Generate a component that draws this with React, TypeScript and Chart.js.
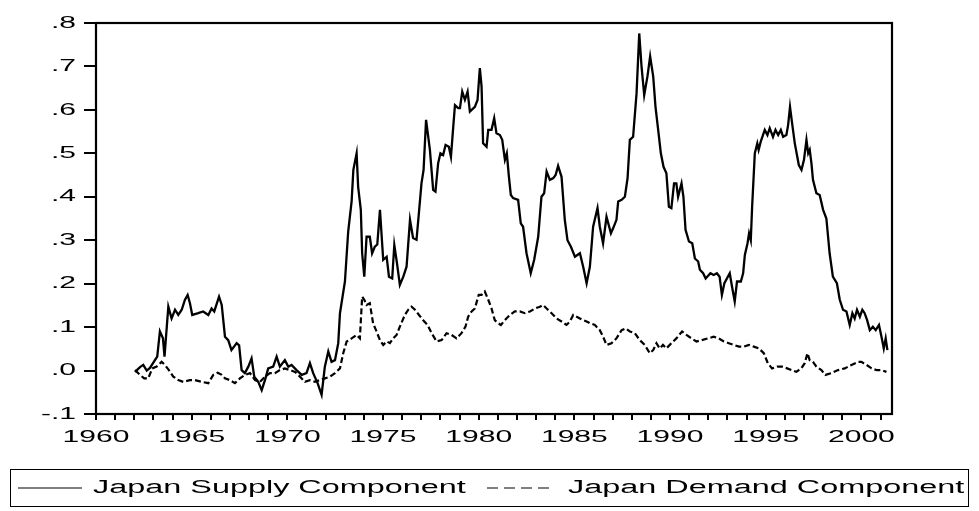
import React, { useEffect, useRef } from "react";
import { Chart, registerables } from "chart.js";

Chart.register(...registerables);

const seriesNames = ["Japan Supply Component", "Japan Demand Component"];

const supplyX = [
  1962.04, 1962.3, 1962.47, 1962.65, 1962.82, 1963.08, 1963.2, 1963.34, 1963.5, 1963.58, 1963.78, 1963.95,
  1964.13, 1964.3, 1964.48, 1964.65, 1964.79, 1964.91, 1965.03, 1965.34, 1965.6, 1965.87, 1966.04, 1966.18,
  1966.43, 1966.57, 1966.74, 1966.91, 1967.08, 1967.35, 1967.48, 1967.61, 1967.78, 1967.96, 1968.13, 1968.27,
  1968.48, 1968.66, 1968.83, 1969.0, 1969.26, 1969.44, 1969.61, 1969.87, 1970.05, 1970.22, 1970.48, 1970.75,
  1971.0, 1971.18, 1971.35, 1971.58, 1971.79, 1971.96, 1972.14, 1972.31, 1972.49, 1972.66, 1972.75, 1973.01,
  1973.18, 1973.36, 1973.45, 1973.62, 1973.7, 1973.84, 1973.91, 1974.02, 1974.14, 1974.31, 1974.43, 1974.57,
  1974.7, 1974.84, 1975.01, 1975.19, 1975.31, 1975.48, 1975.59, 1975.72, 1975.88, 1976.06, 1976.23, 1976.41,
  1976.57, 1976.75, 1976.87, 1977.01, 1977.12, 1977.25, 1977.45, 1977.62, 1977.74, 1977.88, 1978.0, 1978.14,
  1978.27, 1978.44, 1978.55, 1978.67, 1978.76, 1978.93, 1979.02, 1979.14, 1979.28, 1979.42, 1979.54, 1979.8,
  1979.94, 1980.06, 1980.15, 1980.23, 1980.41, 1980.5, 1980.67, 1980.81, 1980.93, 1981.11, 1981.23, 1981.37,
  1981.47, 1981.58, 1981.68, 1981.8, 1982.06, 1982.2, 1982.32, 1982.5, 1982.72, 1982.9, 1983.11, 1983.28,
  1983.42, 1983.55, 1983.72, 1983.9, 1984.02, 1984.15, 1984.33, 1984.5, 1984.64, 1984.82, 1985.03, 1985.29,
  1985.46, 1985.64, 1985.81, 1985.98, 1986.21, 1986.33, 1986.5, 1986.68, 1986.91, 1987.03, 1987.2, 1987.29,
  1987.47, 1987.64, 1987.78, 1987.9, 1988.07, 1988.25, 1988.39, 1988.51, 1988.65, 1988.82, 1988.96, 1989.12,
  1989.24, 1989.38, 1989.52, 1989.66, 1989.81, 1989.94, 1990.07, 1990.21, 1990.33, 1990.42, 1990.6, 1990.7,
  1990.81, 1990.99, 1991.16, 1991.3, 1991.47, 1991.56, 1991.73, 1991.86, 1992.11, 1992.28, 1992.45, 1992.59,
  1992.71, 1992.84, 1993.12, 1993.24, 1993.38, 1993.5, 1993.7, 1993.82, 1993.91, 1994.05, 1994.13, 1994.22,
  1994.29, 1994.43, 1994.56, 1994.63, 1994.74, 1994.95, 1995.09, 1995.21, 1995.38, 1995.51, 1995.65, 1995.79,
  1995.91, 1996.08, 1996.17, 1996.27, 1996.38, 1996.52, 1996.73, 1996.87, 1997.0, 1997.13, 1997.22, 1997.3,
  1997.39, 1997.47, 1997.65, 1997.82, 1998.0, 1998.17, 1998.34, 1998.51, 1998.72, 1998.87, 1999.04, 1999.22,
  1999.39, 1999.53, 1999.65, 1999.77, 1999.92, 2000.05, 2000.17, 2000.3, 2000.44, 2000.6, 2000.75, 2000.92,
  2001.05, 2001.17, 2001.27, 2001.36,
];
const supplyY = [
  -0.003, 0.008, 0.013, 0.0, 0.006, 0.024, 0.032, 0.09, 0.074, 0.032, 0.147, 0.12,
  0.14, 0.128, 0.14, 0.163, 0.174, 0.155, 0.128, 0.132, 0.136, 0.128, 0.143, 0.136,
  0.17, 0.151, 0.078, 0.07, 0.047, 0.063, 0.058, 0.001, -0.006, 0.009, 0.028, -0.014,
  -0.026, -0.045, -0.022, 0.005, 0.009, 0.032, 0.009, 0.024, 0.009, 0.013, 0.001, -0.01,
  -0.006, 0.017, -0.006, -0.029, -0.056, 0.009, 0.044, 0.02, 0.024, 0.063, 0.132, 0.205,
  0.32, 0.39, 0.462, 0.5, 0.423, 0.37, 0.27, 0.216, 0.308, 0.308, 0.27, 0.285,
  0.29, 0.37, 0.255, 0.262, 0.216, 0.212, 0.289, 0.25, 0.197, 0.216, 0.239, 0.347,
  0.305, 0.301, 0.36, 0.431, 0.462, 0.577, 0.508, 0.416, 0.412, 0.477, 0.5, 0.496,
  0.519, 0.515, 0.492, 0.561, 0.611, 0.604, 0.604, 0.642, 0.623, 0.642, 0.596, 0.607,
  0.623, 0.696, 0.654, 0.523, 0.515, 0.554, 0.554, 0.581, 0.546, 0.542, 0.531, 0.485,
  0.5, 0.446, 0.404, 0.397, 0.393, 0.339, 0.331, 0.27, 0.224, 0.255, 0.308, 0.4,
  0.408, 0.458, 0.439, 0.443, 0.45, 0.471, 0.446, 0.347, 0.3, 0.285, 0.262, 0.27,
  0.239, 0.201, 0.239, 0.331, 0.374, 0.331, 0.293, 0.354, 0.316, 0.328, 0.347, 0.389,
  0.393, 0.4, 0.443, 0.531, 0.538, 0.638, 0.776, 0.7, 0.634, 0.677, 0.723, 0.677,
  0.607, 0.554, 0.5, 0.469, 0.454, 0.377, 0.374, 0.431, 0.431, 0.4, 0.431, 0.4,
  0.324, 0.297, 0.293, 0.258, 0.251, 0.232, 0.224, 0.212, 0.224, 0.22, 0.224, 0.216,
  0.174, 0.201, 0.224, 0.193, 0.159, 0.205, 0.205, 0.224, 0.266, 0.293, 0.316, 0.3,
  0.377, 0.5, 0.523, 0.508, 0.527, 0.554, 0.542, 0.558, 0.538, 0.554, 0.542, 0.554,
  0.538, 0.542, 0.565, 0.607, 0.569, 0.523, 0.473, 0.462, 0.485, 0.531, 0.5, 0.508,
  0.477, 0.439, 0.408, 0.404, 0.37, 0.35, 0.27, 0.216, 0.201, 0.163, 0.14, 0.136,
  0.105, 0.132, 0.12, 0.14, 0.124, 0.14, 0.132, 0.116, 0.093, 0.101, 0.093, 0.105,
  0.078, 0.051, 0.074, 0.047,
];

const demandX = [
  1962.04, 1962.3, 1962.52, 1962.73, 1962.94, 1963.17, 1963.43, 1963.6, 1963.81, 1964.04, 1964.3, 1964.56,
  1964.91, 1965.17, 1965.52, 1965.87, 1966.13, 1966.36, 1966.57, 1966.74, 1967.0, 1967.26, 1967.52, 1967.78,
  1968.05, 1968.31, 1968.57, 1968.83, 1969.09, 1969.35, 1969.61, 1969.87, 1970.14, 1970.4, 1970.66, 1970.92,
  1971.18, 1971.44, 1971.7, 1971.96, 1972.23, 1972.49, 1972.75, 1972.92, 1973.1, 1973.36, 1973.62, 1973.79,
  1973.91, 1974.02, 1974.14, 1974.31, 1974.48, 1974.66, 1974.84, 1975.01, 1975.19, 1975.36, 1975.53, 1975.71,
  1975.88, 1976.14, 1976.32, 1976.49, 1976.67, 1976.88, 1977.1, 1977.33, 1977.54, 1977.8, 1978.06, 1978.32,
  1978.58, 1978.84, 1979.1, 1979.31, 1979.45, 1979.63, 1979.8, 1980.0, 1980.15, 1980.32, 1980.5, 1980.67,
  1980.84, 1981.02, 1981.16, 1981.37, 1981.63, 1981.89, 1982.15, 1982.41, 1982.68, 1982.94, 1983.2, 1983.37,
  1983.55, 1983.81, 1984.07, 1984.33, 1984.59, 1984.77, 1984.94, 1985.12, 1985.29, 1985.46, 1985.64, 1985.81,
  1986.07, 1986.33, 1986.5, 1986.68, 1986.94, 1987.2, 1987.47, 1987.67, 1987.9, 1988.16, 1988.42, 1988.68,
  1988.94, 1989.12, 1989.29, 1989.46, 1989.63, 1989.81, 1990.07, 1990.33, 1990.63, 1990.86, 1991.12, 1991.38,
  1991.64, 1991.99, 1992.28, 1992.55, 1992.81, 1993.07, 1993.33, 1993.6, 1993.86, 1994.12, 1994.38, 1994.64,
  1994.9, 1995.11, 1995.33, 1995.6, 1995.86, 1996.12, 1996.6, 1996.86, 1997.04, 1997.18, 1997.3, 1997.47,
  1997.65, 1997.91, 1998.12, 1998.43, 1998.78, 1999.13, 1999.48, 1999.83, 2000.0, 2000.27, 2000.53, 2000.79,
  2001.05, 2001.31,
];
const demandY = [
  0.001, -0.01, -0.018, -0.018, 0.005, 0.009, 0.02, 0.013, 0.001, -0.014, -0.022, -0.026,
  -0.022, -0.022, -0.026, -0.029, -0.01, -0.005, -0.01, -0.018, -0.022, -0.029, -0.018, -0.01,
  -0.006, -0.022, -0.026, -0.014, -0.006, -0.006, 0.001, 0.005, 0.001, -0.003, -0.014, -0.026,
  -0.022, -0.026, -0.022, -0.018, -0.014, -0.006, 0.005, 0.04, 0.067, 0.074, 0.082, 0.074,
  0.17, 0.163, 0.151, 0.155, 0.109, 0.09, 0.07, 0.059, 0.067, 0.063, 0.074, 0.082,
  0.101, 0.128, 0.14, 0.147, 0.14, 0.128, 0.116, 0.105, 0.086, 0.067, 0.07, 0.086,
  0.082, 0.074, 0.086, 0.101, 0.124, 0.136, 0.143, 0.174, 0.174, 0.182, 0.163, 0.143,
  0.116, 0.109, 0.105, 0.116, 0.128, 0.136, 0.136, 0.132, 0.136, 0.143, 0.147, 0.151,
  0.143, 0.132, 0.12, 0.113, 0.105, 0.113, 0.128, 0.124, 0.12, 0.116, 0.113, 0.109,
  0.105, 0.093, 0.078, 0.059, 0.063, 0.074, 0.093, 0.097, 0.09, 0.086, 0.07, 0.059,
  0.04, 0.047, 0.063, 0.051, 0.059, 0.051, 0.063, 0.074, 0.09, 0.082, 0.074, 0.067,
  0.07, 0.074, 0.078, 0.074, 0.067, 0.063, 0.059, 0.055, 0.055, 0.059, 0.055, 0.051,
  0.04, 0.017, 0.005, 0.009, 0.009, 0.005, -0.003, 0.005, 0.017, 0.04, 0.024, 0.02,
  0.009, 0.001, -0.01, -0.006, 0.001, 0.005, 0.013, 0.02, 0.02, 0.013, 0.005, 0.001,
  0.001, -0.003,
];

const yTickValues = [-0.1, 0.0, 0.1, 0.2, 0.3, 0.4, 0.5, 0.6, 0.7, 0.8];
const xTickLabels = [1960, 1965, 1970, 1975, 1980, 1985, 1990, 1995, 2000];

const FONT = '"Liberation Sans", Arial, Helvetica, sans-serif';

function fmtY(v: number): string {
  const s = v.toFixed(1);
  return s.replace(/^(-?)0\./, "$1.");
}

const eviewsPlugin = {
  id: "eviewsDecor",
  afterDraw(chart: any) {
    const { ctx, chartArea: a, scales } = chart;
    ctx.save();
    ctx.strokeStyle = "#000";
    ctx.lineWidth = 2.2;
    ctx.strokeRect(a.left, a.top, a.right - a.left, a.bottom - a.top);

    const drawText = (t: string, x: number, y: number, align: CanvasTextAlign, size: number, sx: number) => {
      ctx.save();
      ctx.font = `${size}px ${FONT}`;
      ctx.fillStyle = "#000";
      ctx.textBaseline = "middle";
      ctx.textAlign = align;
      ctx.translate(x, y);
      ctx.scale(sx, 1);
      ctx.fillText(t, 0, 0);
      ctx.restore();
    };

    for (const v of yTickValues) {
      const py = scales.y.getPixelForValue(v);
      drawText(fmtY(v), a.left - 20, py, "right", 17, 1.77);
    }
    for (const yr of xTickLabels) {
      const px = scales.x.getPixelForValue(yr);
      drawText(String(yr), px, a.bottom + 23, "center", 17, 1.77);
    }

    // legend box
    ctx.lineWidth = 1;
    ctx.strokeStyle = "#000";
    ctx.strokeRect(10.5, 469.5, 958, 37);
    const ly = 488;
    ctx.beginPath();
    ctx.lineWidth = 1.2;
    ctx.moveTo(18, ly);
    ctx.lineTo(82, ly);
    ctx.stroke();
    drawText(seriesNames[0], 93, ly, "left", 18, 1.8);
    ctx.beginPath();
    ctx.setLineDash([11, 6]);
    ctx.moveTo(487, ly);
    ctx.lineTo(555, ly);
    ctx.stroke();
    ctx.setLineDash([]);
    drawText(seriesNames[1], 568, ly, "left", 18, 1.8);
    ctx.restore();
  },
};

export default function App() {
  const ref = useRef<HTMLCanvasElement | null>(null);
  useEffect(() => {
    if (!ref.current) return;
    const chart = new Chart(ref.current, {
      type: "line",
      data: {
        datasets: [
          {
            label: seriesNames[0],
            data: supplyX.map((x, i) => ({ x, y: supplyY[i] })),
            borderColor: "#000",
            borderWidth: 2.3,
            pointRadius: 0,
            tension: 0,
            fill: false,
          },
          {
            label: seriesNames[1],
            data: demandX.map((x, i) => ({ x, y: demandY[i] })),
            borderColor: "#000",
            borderWidth: 2.2,
            borderDash: [6, 3],
            pointRadius: 0,
            tension: 0,
            fill: false,
          },
        ],
      },
      options: {
        animation: false,
        responsive: false,
        maintainAspectRatio: false,
        layout: { padding: { left: 0, top: 23, right: 87, bottom: 0 } },
        plugins: { legend: { display: false }, tooltip: { enabled: false }, title: { display: false } },
        scales: {
          x: {
            type: "linear",
            min: 1960,
            max: 2001.6,
            ticks: { display: false, stepSize: 1, includeBounds: false },
            grid: { display: true, drawOnChartArea: false, drawTicks: true, tickLength: 6, color: "#000", lineWidth: 2 },
            border: { display: false },
            afterFit: (s: any) => { s.height = 97; },
          },
          y: {
            type: "linear",
            min: -0.1,
            max: 0.8,
            ticks: { display: false, stepSize: 0.1 },
            grid: { display: true, drawOnChartArea: false, drawTicks: true, tickLength: 12, color: "#000", lineWidth: 2 },
            border: { display: false },
            afterFit: (s: any) => { s.width = 96; },
          },
        },
      },
      plugins: [eviewsPlugin],
    });
    return () => chart.destroy();
  }, []);
  return (
    <div style={{ position: "absolute", left: 0, top: 0, width: 979, height: 511, background: "#fff" }}>
      <canvas ref={ref} width={979} height={511} style={{ display: "block" }} />
    </div>
  );
}
